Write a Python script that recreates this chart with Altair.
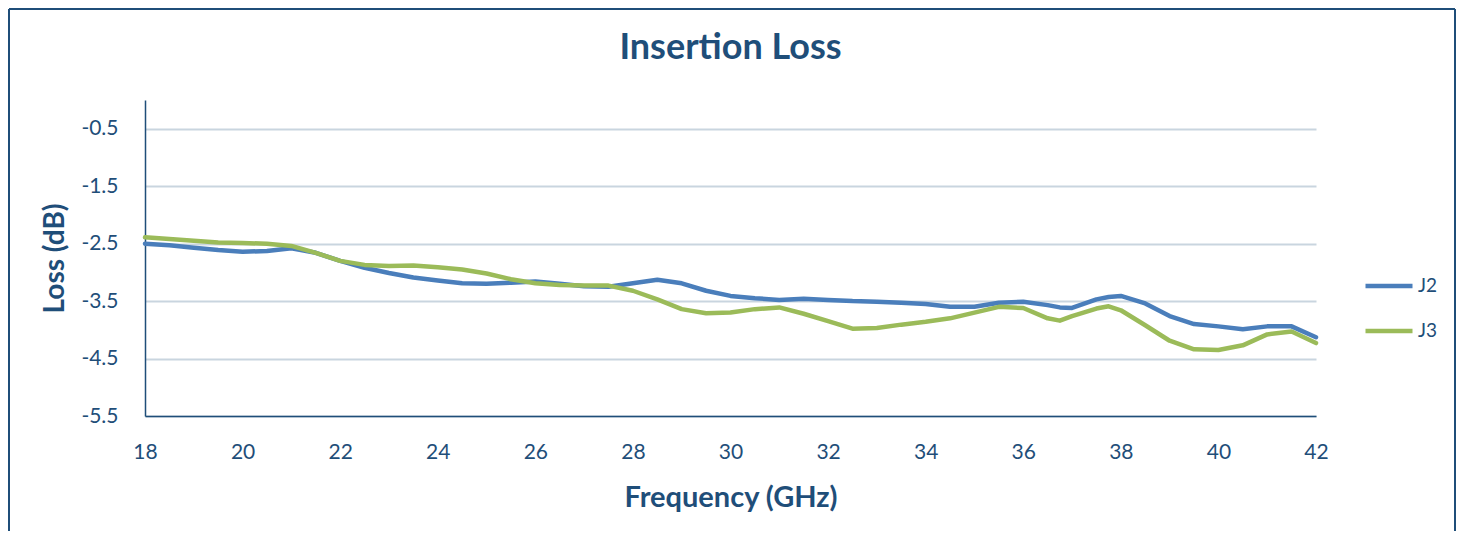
import altair as alt
import pandas as pd

freq_ghz = [18, 18.5, 19, 19.5, 20, 20.5, 21, 21.5, 22, 22.5, 23, 23.5, 24, 24.5,
            25, 25.5, 26, 26.5, 27, 27.5, 28, 28.5, 29, 29.5, 30, 30.5, 31, 31.5,
            32, 32.5, 33, 33.5, 34, 34.5, 35, 35.5, 36, 36.5, 36.75, 37, 37.5, 37.75,
            38, 38.5, 39, 39.5, 40, 40.5, 41, 41.5, 42]

j2_loss = [-2.50, -2.53, -2.57, -2.61, -2.64, -2.63, -2.58, -2.66, -2.80, -2.92,
           -3.01, -3.09, -3.14, -3.19, -3.20, -3.18, -3.16, -3.20, -3.24, -3.25,
           -3.19, -3.13, -3.19, -3.32, -3.41, -3.45, -3.48, -3.46, -3.48, -3.50,
           -3.51, -3.53, -3.55, -3.60, -3.60, -3.53, -3.51, -3.57, -3.61, -3.62,
           -3.47, -3.43, -3.41, -3.54, -3.76, -3.90, -3.94, -3.99, -3.94, -3.94,
           -4.13]

j3_loss = [-2.39, -2.42, -2.45, -2.48, -2.49, -2.50, -2.54, -2.66, -2.80, -2.87,
           -2.89, -2.88, -2.91, -2.95, -3.02, -3.12, -3.19, -3.22, -3.23, -3.23,
           -3.32, -3.47, -3.64, -3.71, -3.70, -3.64, -3.61, -3.72, -3.85, -3.98,
           -3.97, -3.91, -3.86, -3.80, -3.70, -3.60, -3.62, -3.80, -3.84, -3.76,
           -3.63, -3.59, -3.66, -3.92, -4.19, -4.34, -4.35, -4.27, -4.08, -4.03,
           -4.23]

series_names = ["J2", "J3"]
series_colors = ["#4A7EBB", "#9BBB59"]
y_ticks = [-0.5, -1.5, -2.5, -3.5, -4.5, -5.5]
x_ticks = list(range(18, 43, 2))
chart_title = "Insertion Loss"

TEXT = "#1F4E79"
FONT = "Lato"

df = pd.concat([
    pd.DataFrame({"freq": freq_ghz, "loss": j2_loss, "series": "J2"}),
    pd.DataFrame({"freq": freq_ghz, "loss": j3_loss, "series": "J3"}),
])

W, H = 1171, 316

lines = alt.Chart(df).mark_line(strokeWidth=4.5, strokeJoin="round", strokeCap="round").encode(
    x=alt.X("freq:Q", scale=alt.Scale(domain=[18, 42], nice=False, zero=False),
            axis=alt.Axis(values=x_ticks, title="Frequency (GHz)", grid=False,
                          labelFlush=False, labelOverlap=False,
                          titleX=W / 2, titleY=90, titleBaseline="alphabetic",
                          titleFontSize=29, labelPadding=25)),
    y=alt.Y("loss:Q", scale=alt.Scale(domain=[-5.5, 0], nice=False, zero=False),
            axis=alt.Axis(values=y_ticks, title="Loss (dB)", grid=True,
                          labelExpr="datum.value < 0 ? '-' + format(-datum.value, '.1f') : format(datum.value, '.1f')",
                          labelFlush=False, labelOverlap=False,
                          titleX=-82, titleY=H / 2, titleBaseline="alphabetic",
                          titleAngle=-90, titleFontSize=28, labelPadding=27)),
    color=alt.Color("series:N", scale=alt.Scale(domain=series_names, range=series_colors),
                    legend=alt.Legend(title=None)),
)

one_df = pd.DataFrame({"t": [chart_title]})
border_color = "#1F4E79"
left_b = alt.Chart(one_df).mark_rule(color=border_color, strokeWidth=2).encode(
    x=alt.value(-136), y=alt.value(-91), y2=alt.value(431))
right_b = alt.Chart(one_df).mark_rule(color=border_color, strokeWidth=2).encode(
    x=alt.value(1310), y=alt.value(-91), y2=alt.value(431))
top_b = alt.Chart(one_df).mark_rule(color=border_color, strokeWidth=2).encode(
    x=alt.value(-136), x2=alt.value(1310), y=alt.value(-91))

title_mark = alt.Chart(one_df).mark_text(
    font=FONT, fontSize=36, fontWeight="bold", color=TEXT,
    align="center", baseline="alphabetic",
).encode(x=alt.value(W / 2), y=alt.value(-41), text="t:N")

chart = alt.layer(lines, left_b, right_b, top_b, title_mark).properties(
    width=W, height=H,
    autosize=alt.AutoSizeParams(type="none"),
    padding={"left": 137, "top": 92, "right": 140, "bottom": 115},
).configure_view(stroke=None).configure_axis(
    labelFont=FONT, labelFontSize=21, labelColor=TEXT,
    titleFont=FONT, titleFontWeight="bold", titleColor=TEXT,
    domainColor="#1F4E79", domainWidth=1.5, ticks=False,
    gridColor="#C9D5DF", gridWidth=2,
).configure_legend(
    orient="none", legendX=1218, legendY=160, padding=0,
    symbolType="stroke", symbolSize=2209, symbolStrokeWidth=4.5,
    labelFont=FONT, labelFontSize=19, labelColor=TEXT, labelOffset=3, rowPadding=9,
)

chart.save("out.html", embed_options={"renderer": "svg", "actions": False})
